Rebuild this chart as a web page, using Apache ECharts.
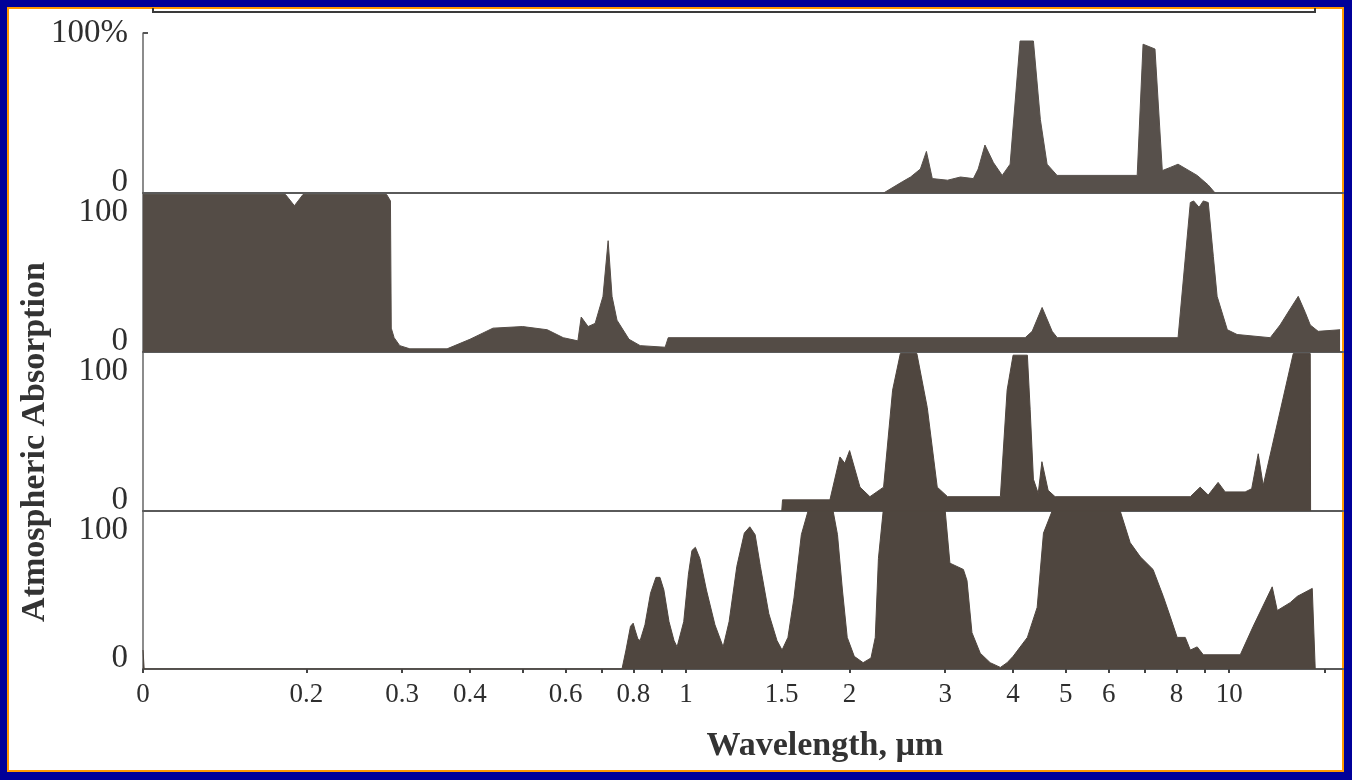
<!DOCTYPE html>
<html><head><meta charset="utf-8">
<script src="https://cdn.jsdelivr.net/npm/echarts@6/dist/echarts.min.js"></script>
<style>
html,body{margin:0;padding:0;width:1352px;height:780px;background:#000099;overflow:hidden}
#frame{position:absolute;left:7px;top:7px;width:1333px;height:761px;border:2px solid #ff9900;background:#fff}
#chart{position:absolute;left:0;top:0;width:1352px;height:780px}
</style></head><body>
<div id="frame"></div><div id="chart"></div>
<script>
// X axis (wavelength, µm) ticks and labels
const tickWavelengths = [0.1,0.2,0.3,0.4,0.5,0.6,0.7,0.8,0.9,1,1.5,2,3,4,5,6,7,8,9,10,15];
const labelWavelengths = [0.1,0.2,0.3,0.4,0.6,0.8,1,1.5,2,3,4,5,6,8,10];
const labelTexts = ['0','0.2','0.3','0.4','0.6','0.8','1','1.5','2','3','4','5','6','8','10'];
const panelTopLabels = ['100%','100','100','100'];

// Panel 1 (N2O)
const n2oWavelength = [2.31,2.50,2.59,2.70,2.77,2.84,3.03,3.20,3.38,3.45,3.55,3.68,3.82,3.95,4.12,4.36,4.49,4.62,4.82,6.77,6.94,7.30,7.53,7.79,8.05,8.73,9.15,9.42];
const n2oAbsorption = [0,7,10,15,26,9,8,10,9,15,30,19,11,18,95,95,46,18,11,11,93,90,14,16,18,11,5,0];

// Panel 2 (O2 and O3)
const o3Wavelength = [0.1,0.183,0.187,0.19,0.193,0.197,0.281,0.2855,0.2865,0.29,0.297,0.31,0.363,0.40,0.441,0.50,0.555,0.594,0.632,0.641,0.66,0.68,0.703,0.7185,0.7305,0.746,0.785,0.823,0.915,0.927,4.21,4.337,4.524,4.721,4.824,8.05,8.48,8.6,8.8,8.96,9.15,9.35,9.5,9.92,10.34,11.9,12.41,13.0,13.4,13.8,14.1,14.58,16.0];
const o3Absorption = [99,99,95,92,95,99,99,95,15,9,4,2,2,8,15,16,14,9,7,22,16,18,35,70,35,20,8,4,3,9,9,13,28,13,9,9,94,95,91,95,94,60,35,14,11,9,17,28,35,25,17,13,14];

// Panel 3 (CO2)
const co2Wavelength = [1.5,1.505,1.84,1.92,1.96,2.0,2.09,2.18,2.31,2.4,2.48,2.66,2.78,2.9,3.03,3.79,3.9,4.0,4.25,4.3,4.36,4.45,4.52,4.64,4.78,8.48,8.84,9.15,9.54,9.83,10.7,11.0,11.31,11.55,13.12,14.1,14.12];
const co2Absorption = [0,7,7,34,30,38,15,9,15,76,99,99,65,15,9,9,76,98,98,64,20,11,31,13,9,9,15,10,18,12,12,14,36,16,99,99,0];

// Panel 4 (H2O)
const h2oWavelength = [0.1,0.1005,0.762,0.775,0.79,0.799,0.805,0.815,0.823,0.84,0.86,0.88,0.895,0.91,0.93,0.95,0.9625,0.99,1.01,1.025,1.04,1.06,1.09,1.13,1.17,1.2,1.24,1.28,1.31,1.34,1.37,1.42,1.47,1.502,1.54,1.58,1.63,1.677,1.865,1.9,1.94,1.98,2.04,2.118,2.19,2.23,2.26,2.306,3.0,3.06,3.24,3.29,3.36,3.48,3.63,3.79,3.9,4.0,4.25,4.43,4.55,4.72,6.3,6.57,6.86,7.24,7.56,7.79,8.02,8.3,8.48,8.73,8.96,10.48,11.07,12.0,12.26,12.95,13.35,14.22,14.4];
const h2oAbsorption = [12,0,0,12,27,29,25,19,18,28,48,58,58,50,30,18,14,30,60,75,77,70,50,28,14,30,65,86,90,85,65,35,18,12,20,45,85,100,100,85,50,20,8,4,7,20,70,100,100,67,63,56,23,10,4,1,4,8,20,39,86,100,100,80,71,63,46,33,20,20,12,14,9,9,27,52,37,42,46,51,0];

const panels = [
  {wl: n2oWavelength, ab: n2oAbsorption, color: '#57504b'},
  {wl: o3Wavelength, ab: o3Absorption, color: '#544c46'},
  {wl: co2Wavelength, ab: co2Absorption, color: '#4f463f'},
  {wl: h2oWavelength, ab: h2oAbsorption, color: '#4f463f'}
];
const gridTops = [33,193,352,511];
const gridHeights = [160,159,159,158];
const serif = '"Liberation Serif","DejaVu Serif",serif';

const chart = echarts.init(document.getElementById('chart'));
const grids = [], xAxes = [], yAxes = [], series = [];
panels.forEach((p, i) => {
  grids.push({left:143, right:9, top:gridTops[i], height:gridHeights[i], containLabel:false});
  const bottom = i === 3;
  xAxes.push({
    type:'log', logBase:10, min:0.1, max:16.2, gridIndex:i,
    axisLine:{show:true, lineStyle:{color:'#5a5a5a', width:2}},
    axisTick:{show:bottom, customValues:tickWavelengths, length:4, inside:false, lineStyle:{color:'#444', width:2}},
    axisLabel:{show:bottom, customValues:labelWavelengths, margin:12, color:'#2e2e2e', fontFamily:serif, fontSize:27,
      formatter:function(v){
        const k = labelWavelengths.findIndex(w => Math.abs(Math.log10(w)-Math.log10(v)) < 1e-6);
        return k >= 0 ? labelTexts[k] : '';
      }},
    splitLine:{show:false}, minorTick:{show:false}, minorSplitLine:{show:false}
  });
  yAxes.push({
    type:'value', min:0, max:100, interval:100, gridIndex:i,
    axisLine:{show:true, lineStyle:{color:'#666', width:1.5}},
    axisTick:{show:i===0, inside:true, length:5, customValues:[100], lineStyle:{color:'#555', width:2}},
    splitLine:{show:false},
    axisLabel:{show:true, margin:15, color:'#2e2e2e', fontFamily:serif, fontSize:33,
      formatter:function(v){
        if (v === 0) return '{lo|0}';
        return i === 0 ? '{top|' + panelTopLabels[i] + '}' : '{hi|' + panelTopLabels[i] + '}';
      },
      rich:{
        lo:{padding:[0,0,22,0], fontFamily:serif, fontSize:33, color:'#2e2e2e'},
        hi:{padding:[38,0,0,0], fontFamily:serif, fontSize:33, color:'#2e2e2e'},
        top:{padding:[0,0,0,0], fontFamily:serif, fontSize:33, color:'#2e2e2e'}
      }}
  });
  series.push({
    type:'line', xAxisIndex:i, yAxisIndex:i, symbol:'none', silent:true,
    data:p.wl.map((w, k) => [w, p.ab[k]]),
    lineStyle:{color:p.color, width:1},
    areaStyle:{color:p.color, opacity:1},
    z:3
  });
});

chart.setOption({
  animation:false,
  grid:grids, xAxis:xAxes, yAxis:yAxes, series:series,
  graphic:[
    {type:'polyline', shape:{points:[[153,8],[153,12],[1315,12],[1315,8]]}, style:{stroke:'#3a3a3a', lineWidth:2, fill:null}},
    {type:'text', x:825, y:746, style:{text:'Wavelength, µm', fill:'#333', font:'bold 34px "Liberation Serif", serif', textAlign:'center', textVerticalAlign:'middle'}},
    {type:'text', x:35, y:442, rotation:Math.PI/2, style:{text:'Atmospheric Absorption', fill:'#333', font:'bold 34px "Liberation Serif", serif', textAlign:'center', textVerticalAlign:'middle'}}
  ]
});
</script>
</body></html>
